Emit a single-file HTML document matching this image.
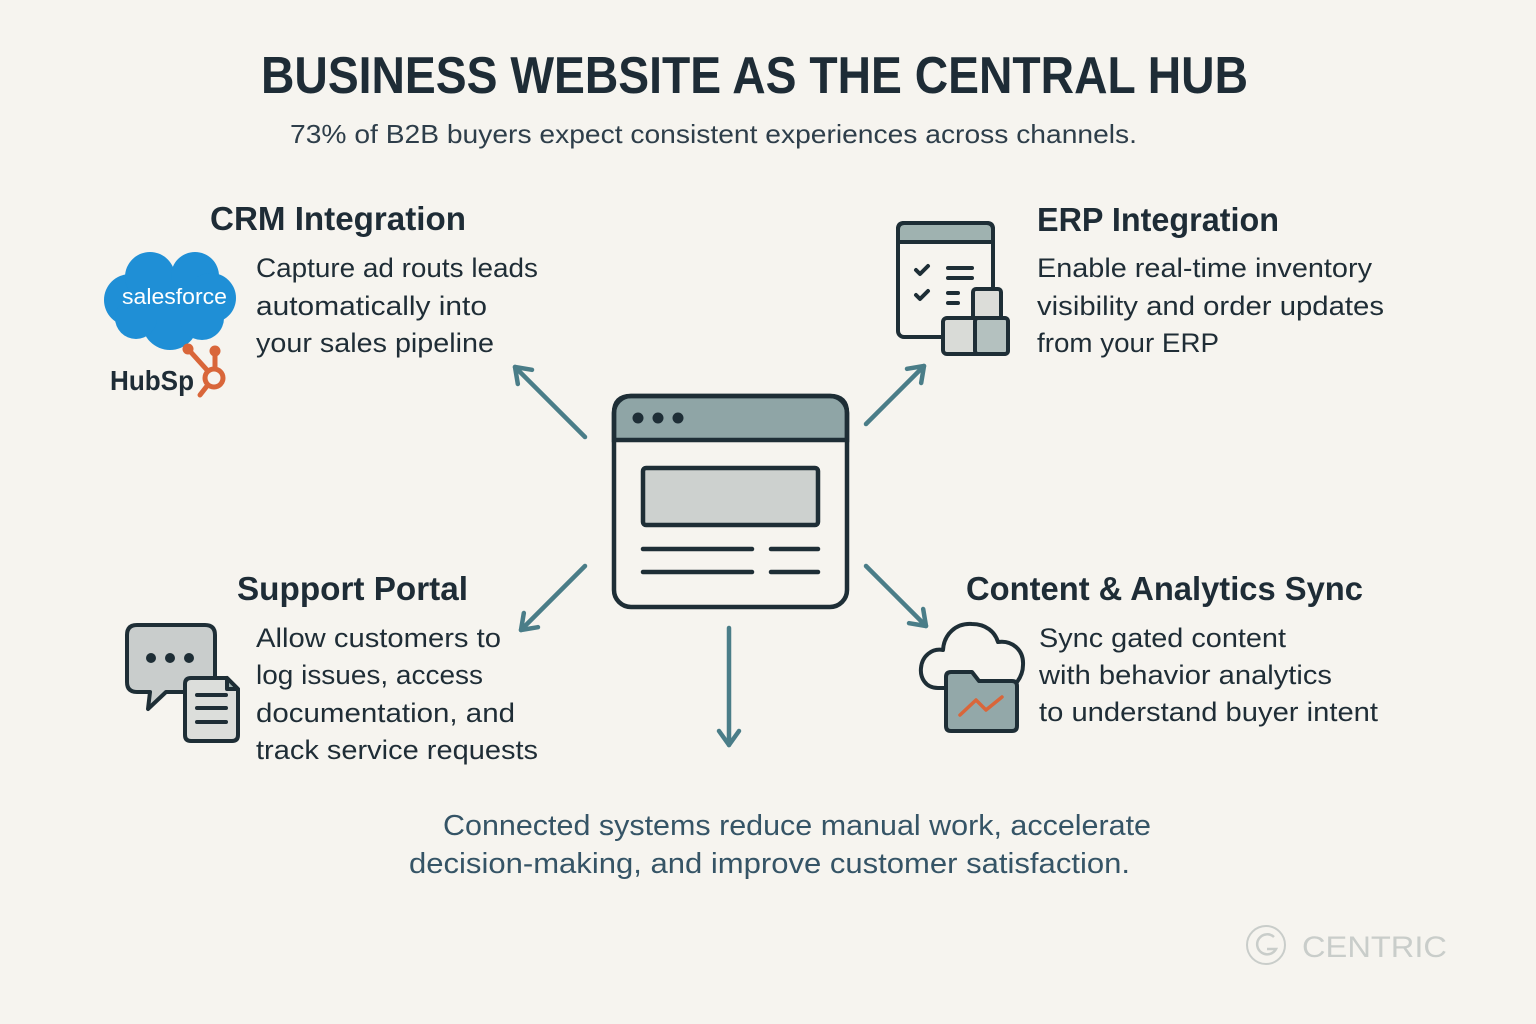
<!DOCTYPE html>
<html>
<head>
<meta charset="utf-8">
<style>
  html,body{margin:0;padding:0;background:#f6f4ef;}
  svg{display:block;}
  text{font-family:"Liberation Sans",sans-serif;}
</style>
</head>
<body>
<svg width="1536" height="1024" viewBox="0 0 1536 1024" xmlns="http://www.w3.org/2000/svg">
  <defs>
    <marker id="ah" markerUnits="userSpaceOnUse" markerWidth="40" markerHeight="40" refX="20" refY="20" orient="auto">
      <path d="M6,10 L20,20 L6,30" fill="none" stroke="#4a7d88" stroke-width="4.5" stroke-linecap="round" stroke-linejoin="round"/>
    </marker>
  </defs>
  <rect width="1536" height="1024" fill="#f6f4ef"/>

  <!-- Title -->
  <text x="261" y="93" font-size="52" font-weight="bold" fill="#1e2c36" textLength="987" lengthAdjust="spacingAndGlyphs">BUSINESS WEBSITE AS THE CENTRAL HUB</text>
  <text x="290" y="143" font-size="26" fill="#2e3e4a" textLength="847" lengthAdjust="spacingAndGlyphs">73% of B2B buyers expect consistent experiences across channels.</text>

  <!-- CRM -->
  <text x="210" y="230" font-size="33" font-weight="bold" fill="#1e2c36" textLength="256" lengthAdjust="spacingAndGlyphs">CRM Integration</text>
  <g font-size="27" fill="#1f2d36">
    <text x="256" y="277" textLength="282" lengthAdjust="spacingAndGlyphs">Capture ad routs leads</text>
    <text x="256" y="315" textLength="231" lengthAdjust="spacingAndGlyphs">automatically into</text>
    <text x="256" y="352" textLength="238" lengthAdjust="spacingAndGlyphs">your sales pipeline</text>
  </g>
  <!-- salesforce cloud -->
  <g fill="#1f8fd6">
    <circle cx="130" cy="300" r="26"/>
    <circle cx="150" cy="277" r="25"/>
    <circle cx="195" cy="276" r="24"/>
    <circle cx="211" cy="298" r="25"/>
    <circle cx="170" cy="322" r="28"/>
    <circle cx="136" cy="318" r="21"/>
    <circle cx="202" cy="318" r="22"/>
    <rect x="130" y="280" width="80" height="40"/>
  </g>
  <text x="122" y="304" font-size="22" fill="#ffffff" textLength="105" lengthAdjust="spacingAndGlyphs">salesforce</text>
  <!-- HubSpot -->
  <text x="110" y="390" font-size="28" font-weight="bold" fill="#1e2c36" textLength="84" lengthAdjust="spacingAndGlyphs">HubSp</text>
  <g stroke="#d9663a" fill="none" stroke-width="5" stroke-linecap="round">
    <line x1="188" y1="349" x2="207" y2="370"/>
    <line x1="215" y1="352" x2="215" y2="367"/>
    <line x1="207" y1="386" x2="200" y2="395"/>
    <circle cx="214" cy="378" r="9"/>
  </g>
  <circle cx="188" cy="349" r="5.5" fill="#d9663a"/>
  <circle cx="215" cy="351" r="5.5" fill="#d9663a"/>

  <!-- ERP -->
  <text x="1037" y="231" font-size="33" font-weight="bold" fill="#1e2c36" textLength="242" lengthAdjust="spacingAndGlyphs">ERP Integration</text>
  <g font-size="27" fill="#1f2d36">
    <text x="1037" y="277" textLength="335" lengthAdjust="spacingAndGlyphs">Enable real-time inventory</text>
    <text x="1037" y="315" textLength="347" lengthAdjust="spacingAndGlyphs">visibility and order updates</text>
    <text x="1037" y="352" textLength="182" lengthAdjust="spacingAndGlyphs">from your ERP</text>
  </g>
  <g stroke="#1e2e36" stroke-width="4" stroke-linejoin="round" stroke-linecap="round">
    <path d="M904,223 H987 Q993,223 993,229 V242 H898 V229 Q898,223 904,223 Z" fill="#9fb2b0"/>
    <rect x="898" y="223" width="95" height="114" rx="6" fill="none"/>
    <path d="M916,270 l4,4 l8,-8" fill="none"/>
    <path d="M916,295 l4,4 l8,-8" fill="none"/>
    <line x1="948" y1="268" x2="972" y2="268"/>
    <line x1="948" y1="278" x2="972" y2="278"/>
    <line x1="948" y1="293" x2="958" y2="293"/>
    <line x1="948" y1="303" x2="958" y2="303"/>
    <rect x="973" y="289" width="28" height="30" rx="3" fill="#dcddd9"/>
    <rect x="943" y="318" width="65" height="36" rx="4" fill="#d9dbd7"/>
    <rect x="975" y="318" width="33" height="36" rx="3" fill="#b4c1bf"/>
  </g>

  <!-- Central browser -->
  <g stroke="#1e2e36" stroke-width="4.5">
    <path d="M631,396 H830 Q847,396 847,413 V440 H614 V413 Q614,396 631,396 Z" fill="#8fa5a6"/>
    <rect x="614" y="396" width="233" height="211" rx="17" fill="none"/>
    <rect x="643" y="468" width="175" height="57" rx="3" fill="#cdd1cf"/>
  </g>
  <g fill="#1e2e36">
    <circle cx="638" cy="418" r="5.5"/>
    <circle cx="658" cy="418" r="5.5"/>
    <circle cx="678" cy="418" r="5.5"/>
  </g>
  <g stroke="#1e2e36" stroke-width="4.5" stroke-linecap="round">
    <line x1="643" y1="549" x2="752" y2="549"/>
    <line x1="771" y1="549" x2="818" y2="549"/>
    <line x1="643" y1="572" x2="752" y2="572"/>
    <line x1="771" y1="572" x2="818" y2="572"/>
  </g>

  <!-- Arrows -->
  <g stroke="#4a7d88" stroke-width="4.5" stroke-linecap="round" fill="none">
    <line x1="585" y1="437" x2="515" y2="367" marker-end="url(#ah)"/>
    <line x1="866" y1="424" x2="924" y2="366" marker-end="url(#ah)"/>
    <line x1="585" y1="566" x2="521" y2="630" marker-end="url(#ah)"/>
    <line x1="866" y1="566" x2="926" y2="626" marker-end="url(#ah)"/>
    <line x1="729" y1="628" x2="729" y2="745" marker-end="url(#ah)"/>
  </g>

  <!-- Support Portal -->
  <text x="237" y="600" font-size="33" font-weight="bold" fill="#1e2c36" textLength="231" lengthAdjust="spacingAndGlyphs">Support Portal</text>
  <g font-size="27" fill="#1f2d36">
    <text x="256" y="647" textLength="245" lengthAdjust="spacingAndGlyphs">Allow customers to</text>
    <text x="256" y="684" textLength="227" lengthAdjust="spacingAndGlyphs">log issues, access</text>
    <text x="256" y="722" textLength="259" lengthAdjust="spacingAndGlyphs">documentation, and</text>
    <text x="256" y="759" textLength="282" lengthAdjust="spacingAndGlyphs">track service requests</text>
  </g>
  <g stroke="#1e2e36" stroke-width="4" stroke-linejoin="round" stroke-linecap="round">
    <path d="M137,625 H205 Q215,625 215,635 V682 Q215,692 205,692 H166 L148,709 L150,692 H137 Q127,692 127,682 V635 Q127,625 137,625 Z" fill="#c9cdcc"/>
    <path d="M191,678 H227 L238,689 V735 Q238,741 232,741 H191 Q185,741 185,735 V684 Q185,678 191,678 Z" fill="#dcdedb"/>
    <path d="M227,678 V689 H238 Z" fill="#9fb2b0"/>
    <line x1="197" y1="695" x2="226" y2="695"/>
    <line x1="197" y1="708" x2="226" y2="708"/>
    <line x1="197" y1="722" x2="226" y2="722"/>
  </g>
  <g fill="#1e2e36">
    <circle cx="151" cy="658" r="5"/>
    <circle cx="170" cy="658" r="5"/>
    <circle cx="189" cy="658" r="5"/>
  </g>

  <!-- Content & Analytics -->
  <text x="966" y="600" font-size="33" font-weight="bold" fill="#1e2c36" textLength="397" lengthAdjust="spacingAndGlyphs">Content &amp; Analytics Sync</text>
  <g font-size="27" fill="#1f2d36">
    <text x="1039" y="647" textLength="247" lengthAdjust="spacingAndGlyphs">Sync gated content</text>
    <text x="1039" y="684" textLength="293" lengthAdjust="spacingAndGlyphs">with behavior analytics</text>
    <text x="1039" y="721" textLength="339" lengthAdjust="spacingAndGlyphs">to understand buyer intent</text>
  </g>
  <g stroke="#1e2e36" stroke-width="4" stroke-linejoin="round" stroke-linecap="round">
    <path d="M944,688 H938 C925,688 920,677 921,668 C922,656 932,648 943,650 C944,634 956,623 972,624 C986,624 995,632 998,642 C1012,640 1024,650 1023,665 C1023,673 1020,678 1017,682" fill="none"/>
    <path d="M951,672 H972 L979,681 H1012 Q1017,681 1017,686 V726 Q1017,731 1012,731 H951 Q946,731 946,726 V677 Q946,672 951,672 Z" fill="#93a8a9"/>
  </g>
  <path d="M960,715 L976,700 L986,710 L1002,697" fill="none" stroke="#d9663a" stroke-width="3.5" stroke-linecap="round" stroke-linejoin="round"/>

  <!-- Bottom text -->
  <g font-size="29" fill="#355466">
    <text x="443" y="835" textLength="708" lengthAdjust="spacingAndGlyphs">Connected systems reduce manual work, accelerate</text>
    <text x="409" y="873" textLength="721" lengthAdjust="spacingAndGlyphs">decision-making, and improve customer satisfaction.</text>
  </g>

  <!-- CENTRIC logo -->
  <circle cx="1266" cy="945" r="19" fill="none" stroke="#c9cdca" stroke-width="2"/>
  <path d="M1274,937 A10,10 0 1 0 1276,949 H1267" fill="none" stroke="#c9cdca" stroke-width="2.5"/>
  <text x="1302" y="957" font-size="30" fill="#c9cdca" textLength="145" lengthAdjust="spacingAndGlyphs">CENTRIC</text>
</svg>
</body>
</html>
